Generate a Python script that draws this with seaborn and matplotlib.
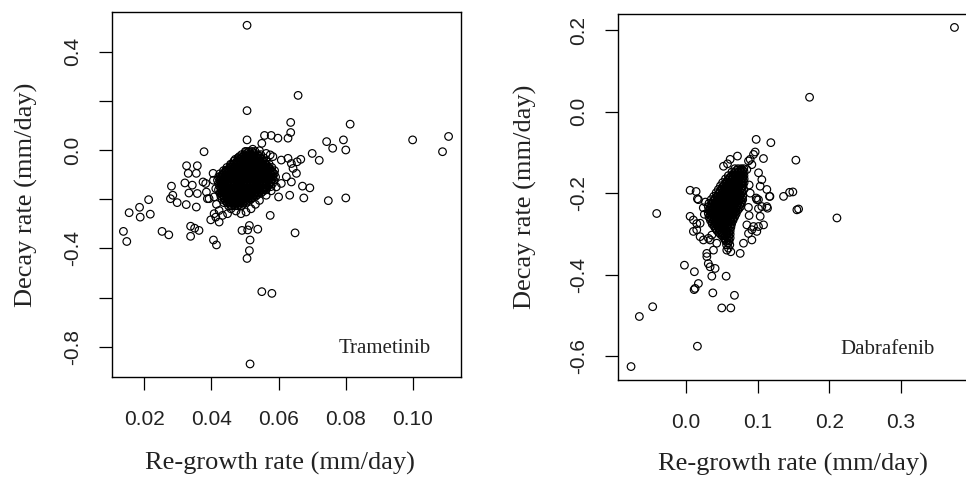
import matplotlib
matplotlib.use("Agg")
import matplotlib.pyplot as plt
import seaborn as sns
import pandas as pd

# ---------------- Trametinib panel data ----------------
# scattered points (re-growth rate, decay rate)
tram_outer = [
    (0.0506, 0.507), (0.0658, 0.222), (0.0506, 0.160), (0.0636, 0.112), (0.0636, 0.071),
    (0.0628, 0.048), (0.0813, 0.105), (0.0558, 0.059), (0.0578, 0.059), (0.0598, 0.048),
    (0.0506, 0.041), (0.0550, 0.027), (0.0999, 0.041), (0.1106, 0.055), (0.1088, -0.007),
    (0.0743, 0.034), (0.0761, 0.007), (0.0793, 0.041), (0.0800, 0.000), (0.0700, -0.014),
    (0.0721, -0.042), (0.0800, -0.195), (0.0748, -0.206), (0.0675, -0.195), (0.0671, -0.147),
    (0.0693, -0.154), (0.0649, -0.337), (0.0575, -0.266), (0.0633, -0.184), (0.0600, -0.191),
    (0.0378, -0.007), (0.0471, -0.038), (0.0138, -0.331), (0.0148, -0.372), (0.0155, -0.255),
    (0.0186, -0.233), (0.0188, -0.273), (0.0213, -0.202), (0.0218, -0.261), (0.0253, -0.331),
    (0.0273, -0.345), (0.0281, -0.147), (0.0285, -0.184), (0.0278, -0.198), (0.0298, -0.214),
    (0.0326, -0.064), (0.0358, -0.064), (0.0331, -0.095), (0.0355, -0.095), (0.0321, -0.134),
    (0.0343, -0.143), (0.0333, -0.175), (0.0358, -0.177), (0.0325, -0.222), (0.0355, -0.232),
    (0.0338, -0.310), (0.0350, -0.318), (0.0363, -0.327), (0.0338, -0.351), (0.0375, -0.130),
    (0.0383, -0.136), (0.0388, -0.198), (0.0405, -0.095), (0.0406, -0.366), (0.0415, -0.386),
    (0.0491, -0.327), (0.0508, -0.325), (0.0538, -0.322), (0.0513, -0.307), (0.0515, -0.366),
    (0.0513, -0.409), (0.0506, -0.441), (0.0550, -0.576), (0.0580, -0.583), (0.0515, -0.870),
    (0.0583, -0.027), (0.0608, -0.041), (0.0628, -0.034), (0.0638, -0.055), (0.0655, -0.048),
    (0.0666, -0.038), (0.0643, -0.075), (0.0653, -0.095), (0.0638, -0.130), (0.0623, -0.109),
    (0.0608, -0.136), (0.0593, -0.150), (0.0578, -0.166), (0.0563, -0.184), (0.0543, -0.205),
    (0.0531, -0.221), (0.0518, -0.239), (0.0503, -0.252), (0.0488, -0.259), (0.0473, -0.248),
    (0.0458, -0.239), (0.0448, -0.259), (0.0433, -0.266), (0.0423, -0.246), (0.0415, -0.221),
    (0.0408, -0.191), (0.0413, -0.157), (0.0418, -0.123), (0.0433, -0.102), (0.0443, -0.082),
    (0.0458, -0.061), (0.0483, -0.027), (0.0503, -0.007), (0.0523, 0.003), (0.0543, -0.003),
    (0.0563, -0.014), (0.0575, -0.020), (0.0398, -0.284), (0.0413, -0.273), (0.0423, -0.293),
    (0.0408, -0.259), (0.0393, -0.198), (0.0385, -0.171), (0.0406, -0.123),
]
# dense core, read row by row (decay level -> re-growth values)
tram_core_y = [-0.006, -0.019, -0.032, -0.045, -0.058, -0.071, -0.084, -0.097, -0.110,
               -0.123, -0.136, -0.149, -0.162, -0.175, -0.188, -0.201, -0.214, -0.227,
               -0.0125, -0.0255, -0.0385, -0.0515, -0.0645, -0.0775, -0.0905, -0.1035,
               -0.1165, -0.1295, -0.1425, -0.1555, -0.1685, -0.1815, -0.1945, -0.2075,
               -0.2205]
tram_core_x = [
    [0.0501, 0.0511, 0.0521, 0.0530],
    [0.0490, 0.0499, 0.0509, 0.0519, 0.0528, 0.0538, 0.0547],
    [0.0479, 0.0488, 0.0498, 0.0508, 0.0517, 0.0527, 0.0537, 0.0546, 0.0556],
    [0.0467, 0.0477, 0.0487, 0.0496, 0.0506, 0.0515, 0.0525, 0.0535, 0.0544, 0.0554, 0.0563],
    [0.0457, 0.0466, 0.0476, 0.0486, 0.0495, 0.0505, 0.0514, 0.0524, 0.0534, 0.0543, 0.0553,
     0.0562, 0.0572],
    [0.0446, 0.0456, 0.0465, 0.0475, 0.0484, 0.0494, 0.0504, 0.0513, 0.0523, 0.0532, 0.0542,
     0.0551, 0.0561, 0.0570, 0.0580],
    [0.0436, 0.0445, 0.0455, 0.0464, 0.0474, 0.0483, 0.0493, 0.0503, 0.0512, 0.0522, 0.0531,
     0.0541, 0.0550, 0.0560, 0.0569, 0.0579, 0.0588],
    [0.0425, 0.0435, 0.0444, 0.0454, 0.0463, 0.0473, 0.0482, 0.0492, 0.0501, 0.0511, 0.0520,
     0.0530, 0.0539, 0.0549, 0.0558, 0.0568, 0.0577, 0.0587],
    [0.0421, 0.0430, 0.0440, 0.0449, 0.0459, 0.0468, 0.0478, 0.0487, 0.0497, 0.0506, 0.0516,
     0.0525, 0.0535, 0.0544, 0.0554, 0.0563, 0.0573, 0.0582, 0.0591],
    [0.0425, 0.0434, 0.0444, 0.0453, 0.0463, 0.0472, 0.0482, 0.0491, 0.0501, 0.0510, 0.0520,
     0.0529, 0.0539, 0.0548, 0.0558, 0.0567, 0.0577, 0.0586],
    [0.0421, 0.0430, 0.0440, 0.0449, 0.0459, 0.0468, 0.0478, 0.0487, 0.0497, 0.0506, 0.0516,
     0.0525, 0.0535, 0.0544, 0.0554, 0.0563, 0.0573, 0.0582],
    [0.0425, 0.0434, 0.0444, 0.0453, 0.0463, 0.0472, 0.0482, 0.0491, 0.0501, 0.0510, 0.0520,
     0.0529, 0.0539, 0.0548, 0.0558, 0.0567, 0.0577],
    [0.0421, 0.0430, 0.0440, 0.0449, 0.0459, 0.0468, 0.0478, 0.0487, 0.0497, 0.0506, 0.0516,
     0.0525, 0.0535, 0.0544, 0.0554, 0.0563],
    [0.0425, 0.0434, 0.0444, 0.0453, 0.0463, 0.0472, 0.0482, 0.0491, 0.0501, 0.0510, 0.0520,
     0.0529, 0.0539, 0.0548],
    [0.0428, 0.0437, 0.0447, 0.0456, 0.0466, 0.0475, 0.0485, 0.0494, 0.0504, 0.0513, 0.0523,
     0.0532],
    [0.0432, 0.0441, 0.0451, 0.0460, 0.0470, 0.0479, 0.0489, 0.0498, 0.0508, 0.0517],
    [0.0437, 0.0446, 0.0456, 0.0465, 0.0475, 0.0484, 0.0494, 0.0503],
    [0.0451, 0.0460, 0.0470, 0.0479, 0.0489],
    [0.0506, 0.0516, 0.0526],
    [0.0494, 0.0504, 0.0513, 0.0523, 0.0533, 0.0542],
    [0.0483, 0.0493, 0.0503, 0.0512, 0.0522, 0.0532, 0.0541, 0.0551],
    [0.0472, 0.0482, 0.0491, 0.0501, 0.0510, 0.0520, 0.0530, 0.0539, 0.0549, 0.0558],
    [0.0461, 0.0471, 0.0480, 0.0490, 0.0499, 0.0509, 0.0519, 0.0528, 0.0538, 0.0547, 0.0557,
     0.0566],
    [0.0451, 0.0460, 0.0470, 0.0479, 0.0489, 0.0498, 0.0508, 0.0517, 0.0527, 0.0536, 0.0546,
     0.0555, 0.0565, 0.0574],
    [0.0440, 0.0449, 0.0459, 0.0468, 0.0478, 0.0487, 0.0497, 0.0506, 0.0516, 0.0525, 0.0535,
     0.0544, 0.0554, 0.0563, 0.0573, 0.0582],
    [0.0430, 0.0439, 0.0449, 0.0458, 0.0468, 0.0477, 0.0487, 0.0496, 0.0506, 0.0515, 0.0525,
     0.0534, 0.0544, 0.0553, 0.0563, 0.0572, 0.0582],
    [0.0430, 0.0439, 0.0449, 0.0458, 0.0468, 0.0477, 0.0487, 0.0496, 0.0506, 0.0515, 0.0525,
     0.0534, 0.0544, 0.0553, 0.0563, 0.0572, 0.0582],
    [0.0430, 0.0439, 0.0449, 0.0458, 0.0468, 0.0477, 0.0487, 0.0496, 0.0506, 0.0515, 0.0525,
     0.0534, 0.0544, 0.0553, 0.0563, 0.0577],
    [0.0430, 0.0439, 0.0449, 0.0458, 0.0468, 0.0477, 0.0487, 0.0496, 0.0506, 0.0515, 0.0525,
     0.0534, 0.0544, 0.0553, 0.0563, 0.0572],
    [0.0430, 0.0439, 0.0449, 0.0458, 0.0468, 0.0477, 0.0487, 0.0496, 0.0506, 0.0515, 0.0525,
     0.0534, 0.0544, 0.0553, 0.0563],
    [0.0430, 0.0439, 0.0449, 0.0458, 0.0468, 0.0477, 0.0487, 0.0496, 0.0506, 0.0515, 0.0525,
     0.0534, 0.0544, 0.0553],
    [0.0432, 0.0442, 0.0451, 0.0461, 0.0470, 0.0480, 0.0489, 0.0499, 0.0508, 0.0518, 0.0527,
     0.0537],
    [0.0437, 0.0446, 0.0456, 0.0465, 0.0475, 0.0484, 0.0494, 0.0503, 0.0513, 0.0522],
    [0.0442, 0.0451, 0.0461, 0.0470, 0.0480, 0.0489, 0.0499, 0.0508],
    [0.0455, 0.0465, 0.0474, 0.0484, 0.0494],
]

# ---------------- Dabrafenib panel data ----------------
dab_outer = [
    (0.3745, 0.207), (0.1723, 0.0355), (0.0978, -0.068), (0.1183, -0.076), (0.0964, -0.099),
    (0.1080, -0.115), (0.0717, -0.109), (0.1532, -0.119), (0.1360, -0.208), (0.1444, -0.198),
    (0.1490, -0.197), (0.1546, -0.241), (0.1570, -0.239), (0.2105, -0.261), (0.1170, -0.208),
    (0.1136, -0.237), (0.1010, -0.238), (0.1010, -0.216), (0.1010, -0.282), (0.0918, -0.290),
    (0.0848, -0.278), (-0.0410, -0.250), (0.0056, -0.193), (0.0140, -0.196), (0.0158, -0.214),
    (0.0056, -0.257), (0.0149, -0.275), (0.0290, -0.356), (0.0310, -0.373), (0.0335, -0.381),
    (0.0405, -0.385), (-0.0023, -0.377), (0.0116, -0.393), (0.0359, -0.404), (0.0559, -0.404),
    (0.0172, -0.422), (0.0126, -0.434), (0.0112, -0.437), (0.0373, -0.445), (0.0675, -0.451),
    (0.0498, -0.482), (0.0624, -0.482), (-0.0466, -0.479), (-0.0652, -0.503), (0.0158, -0.576),
    (-0.0768, -0.626), (0.0568, -0.340), (0.0624, -0.344), (0.0578, -0.128), (0.0871, -0.121),
    (0.0172, -0.216), (0.1164, -0.208), (0.1127, -0.233), (0.0978, -0.212), (0.0102, -0.294),
    (0.0196, -0.307), (0.0242, -0.315), (0.0312, -0.311), (0.0359, -0.303), (0.0102, -0.266),
    (0.0196, -0.274), (0.0149, -0.290), (0.0335, -0.315), (0.0428, -0.323), (0.0382, -0.340),
    (0.0289, -0.348), (0.0987, -0.216), (0.1057, -0.233), (0.1034, -0.257), (0.0941, -0.282),
    (0.1081, -0.278), (0.0987, -0.294), (0.0871, -0.299), (0.0918, -0.315), (0.0801, -0.323),
    (0.0755, -0.348), (0.0894, -0.117), (0.0941, -0.105), (0.0918, -0.130), (0.0848, -0.142),
    (0.0615, -0.117), (0.0522, -0.134), (0.1011, -0.150), (0.1057, -0.167), (0.1034, -0.183),
    (0.1127, -0.191), (0.0240, -0.236), (0.0255, -0.252), (0.0270, -0.222), (0.0880, -0.180),
    (0.0895, -0.200), (0.0870, -0.235), (0.0880, -0.255),
]
dab_core_y = [-0.140, -0.148, -0.157, -0.165, -0.174, -0.182, -0.191, -0.199, -0.208, -0.216,
              -0.225, -0.233, -0.242, -0.250, -0.259, -0.267, -0.276, -0.284, -0.293, -0.301,
              -0.310, -0.318, -0.327, -0.335,
              -0.144, -0.1525, -0.161, -0.1695, -0.178, -0.1865, -0.195, -0.2035, -0.212,
              -0.2205, -0.229, -0.2375, -0.246, -0.2545, -0.263, -0.2715, -0.280, -0.2885,
              -0.297, -0.3055, -0.314, -0.3225]
dab_core_x = [
    [0.0680, 0.0725, 0.0770, 0.0805],
    [0.0640, 0.0685, 0.0730, 0.0775, 0.0810],
    [0.0590, 0.0635, 0.0680, 0.0725, 0.0770, 0.0808],
    [0.0550, 0.0595, 0.0640, 0.0685, 0.0730, 0.0775, 0.0810],
    [0.0510, 0.0555, 0.0600, 0.0645, 0.0690, 0.0735, 0.0780, 0.0810],
    [0.0480, 0.0525, 0.0570, 0.0615, 0.0660, 0.0705, 0.0750, 0.0795],
    [0.0450, 0.0495, 0.0540, 0.0585, 0.0630, 0.0675, 0.0720, 0.0765, 0.0805],
    [0.0420, 0.0465, 0.0510, 0.0555, 0.0600, 0.0645, 0.0690, 0.0735, 0.0780],
    [0.0385, 0.0430, 0.0475, 0.0520, 0.0565, 0.0610, 0.0655, 0.0700, 0.0745, 0.0790],
    [0.0350, 0.0395, 0.0440, 0.0485, 0.0530, 0.0575, 0.0620, 0.0665, 0.0710, 0.0755, 0.0790],
    [0.0320, 0.0365, 0.0410, 0.0455, 0.0500, 0.0545, 0.0590, 0.0635, 0.0680, 0.0725, 0.0770],
    [0.0310, 0.0355, 0.0400, 0.0445, 0.0490, 0.0535, 0.0580, 0.0625, 0.0670, 0.0715, 0.0760],
    [0.0315, 0.0360, 0.0405, 0.0450, 0.0495, 0.0540, 0.0585, 0.0630, 0.0675, 0.0720],
    [0.0310, 0.0355, 0.0400, 0.0445, 0.0490, 0.0535, 0.0580, 0.0625, 0.0670, 0.0700],
    [0.0320, 0.0365, 0.0410, 0.0455, 0.0500, 0.0545, 0.0590, 0.0635, 0.0675],
    [0.0340, 0.0385, 0.0430, 0.0475, 0.0520, 0.0565, 0.0610, 0.0655],
    [0.0365, 0.0410, 0.0455, 0.0500, 0.0545, 0.0590, 0.0635],
    [0.0400, 0.0445, 0.0490, 0.0535, 0.0580, 0.0625],
    [0.0435, 0.0480, 0.0525, 0.0570, 0.0615],
    [0.0480, 0.0525, 0.0570, 0.0615],
    [0.0530, 0.0575, 0.0615],
    [0.0555, 0.0600],
    [0.0565, 0.0610],
    [0.0590],
    [0.0705, 0.0750, 0.0790],
    [0.0660, 0.0705, 0.0750, 0.0795],
    [0.0615, 0.0660, 0.0705, 0.0750, 0.0790],
    [0.0575, 0.0620, 0.0665, 0.0710, 0.0755, 0.0795],
    [0.0540, 0.0585, 0.0630, 0.0675, 0.0720, 0.0765],
    [0.0505, 0.0550, 0.0595, 0.0640, 0.0685, 0.0730, 0.0775],
    [0.0475, 0.0520, 0.0565, 0.0610, 0.0655, 0.0700, 0.0745, 0.0785],
    [0.0445, 0.0490, 0.0535, 0.0580, 0.0625, 0.0670, 0.0715, 0.0760],
    [0.0410, 0.0455, 0.0500, 0.0545, 0.0590, 0.0635, 0.0680, 0.0725, 0.0770],
    [0.0375, 0.0420, 0.0465, 0.0510, 0.0555, 0.0600, 0.0645, 0.0690, 0.0735, 0.0775],
    [0.0345, 0.0390, 0.0435, 0.0480, 0.0525, 0.0570, 0.0615, 0.0660, 0.0705, 0.0750],
    [0.0335, 0.0380, 0.0425, 0.0470, 0.0515, 0.0560, 0.0605, 0.0650, 0.0695, 0.0740],
    [0.0335, 0.0380, 0.0425, 0.0470, 0.0515, 0.0560, 0.0605, 0.0650, 0.0690],
    [0.0335, 0.0380, 0.0425, 0.0470, 0.0515, 0.0560, 0.0605, 0.0650, 0.0685],
    [0.0345, 0.0390, 0.0435, 0.0480, 0.0525, 0.0570, 0.0615, 0.0655],
    [0.0365, 0.0410, 0.0455, 0.0500, 0.0545, 0.0590, 0.0630],
    [0.0390, 0.0435, 0.0480, 0.0525, 0.0570, 0.0615],
    [0.0420, 0.0465, 0.0510, 0.0555, 0.0600],
    [0.0460, 0.0505, 0.0550, 0.0595],
    [0.0505, 0.0550, 0.0595],
    [0.0545, 0.0590],
    [0.0585],
]

tram_xticks = [0.02, 0.04, 0.06, 0.08, 0.10]
tram_xlabels = ["0.02", "0.04", "0.06", "0.08", "0.10"]
tram_yticks = [-0.8, -0.6, -0.4, -0.2, 0.0, 0.2, 0.4]
tram_ylabels = ["-0.8", "", "-0.4", "", "0.0", "", "0.4"]
dab_xticks = [0.0, 0.1, 0.2, 0.3]
dab_xlabels = ["0.0", "0.1", "0.2", "0.3"]
dab_yticks = [-0.6, -0.4, -0.2, 0.0, 0.2]
dab_ylabels = ["-0.6", "-0.4", "-0.2", "0.0", "0.2"]


def build_frame(outer, core_y, core_x):
    xs = [p[0] for p in outer]
    ys = [p[1] for p in outer]
    for yv, row in zip(core_y, core_x):
        for xv in row:
            xs.append(xv)
            ys.append(yv)
    return pd.DataFrame({"regrowth": xs, "decay": ys})


tram_df = build_frame(tram_outer, tram_core_y, tram_core_x)
dab_df = build_frame(dab_outer, dab_core_y, dab_core_x)

sns.set_theme(style="ticks")
plt.rcParams["font.family"] = ["Liberation Sans", "DejaVu Sans"]

fig = plt.figure(figsize=(9.66, 4.82), dpi=100)
W, H = 966.0, 482.0
ax1 = fig.add_axes([112 / W, 1 - 377 / H, 349 / W, 365 / H])
ax2 = fig.add_axes([618 / W, 1 - 380 / H, 349 / W, 366 / H])

serif = ["Liberation Serif", "DejaVu Serif"]
sans = ["Liberation Sans", "DejaVu Sans"]


def style_panel(ax, df, xlim, ylim, xt, xl, yt, yl, label_text, label_pos,
                xlab_pos, ylab_pos):
    sns.scatterplot(data=df, x="regrowth", y="decay", ax=ax, marker="o", s=30,
                    color="black", facecolors="none", edgecolor="black",
                    linewidth=0.85, legend=False)
    ax.set_xlim(*xlim)
    ax.set_ylim(*ylim)
    ax.set_xticks(xt)
    ax.set_xticklabels(xl, fontsize=15, family=sans, color="#222222")
    ax.set_yticks(yt)
    ax.set_yticklabels(yl, fontsize=15, family=sans, color="#222222",
                       rotation=90, va="center")
    ax.tick_params(axis="both", direction="out", length=9.7, width=0.9, color="black")
    ax.tick_params(axis="x", pad=14)
    ax.tick_params(axis="y", pad=12)
    for sp in ax.spines.values():
        sp.set_visible(True)
        sp.set_linewidth(1.0)
        sp.set_color("black")
    ax.set_xlabel("Re-growth rate (mm/day)", fontsize=19, family=serif, color="#222222")
    ax.set_ylabel("Decay rate (mm/day)", fontsize=19, family=serif, color="#222222")
    ax.xaxis.set_label_coords(*xlab_pos)
    ax.xaxis.label.set_verticalalignment("center")
    ax.yaxis.set_label_coords(*ylab_pos)
    ax.yaxis.label.set_verticalalignment("center")
    ax.text(label_pos[0], label_pos[1], label_text, fontsize=15, family=serif,
            ha="center", va="center", color="#222222")


style_panel(ax1, tram_df, (0.0104, 0.1143), (-0.923, 0.561),
            tram_xticks, tram_xlabels, tram_yticks, tram_ylabels,
            "Trametinib", (0.0916, -0.808), (0.481, -0.238), (-0.246, 0.5))
style_panel(ax2, dab_df, (-0.095, 0.392), (-0.659, 0.240),
            dab_xticks, dab_xlabels, dab_yticks, dab_ylabels,
            "Dabrafenib", (0.281, -0.585), (0.5, -0.2295), (-0.264, 0.5))

fig.savefig("out.png", dpi=100)
